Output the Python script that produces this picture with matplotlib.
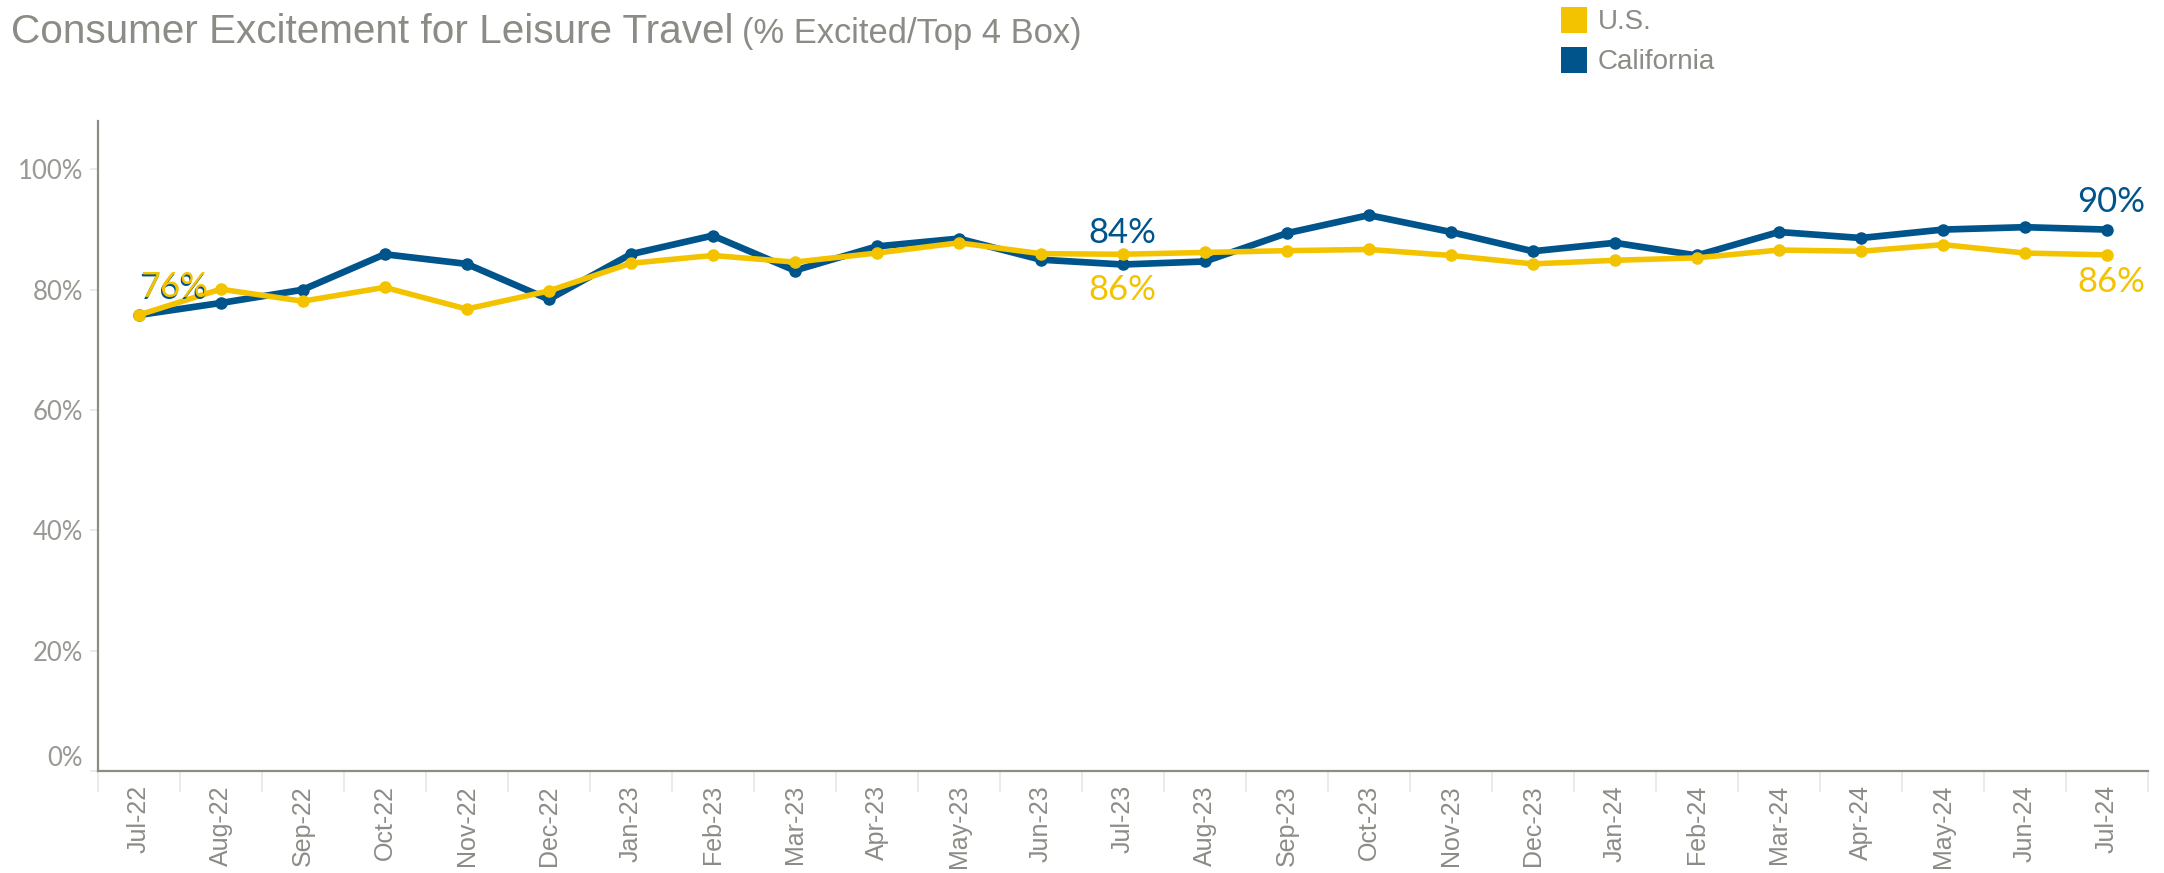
import matplotlib.pyplot as plt
from matplotlib.patches import Rectangle

# ---- data ----
months = ['Jul-22', 'Aug-22', 'Sep-22', 'Oct-22', 'Nov-22', 'Dec-22',
          'Jan-23', 'Feb-23', 'Mar-23', 'Apr-23', 'May-23', 'Jun-23',
          'Jul-23', 'Aug-23', 'Sep-23', 'Oct-23', 'Nov-23', 'Dec-23',
          'Jan-24', 'Feb-24', 'Mar-24', 'Apr-24', 'May-24', 'Jun-24', 'Jul-24']
us = [75.8, 80.1, 78.1, 80.4, 76.8, 79.8, 84.4, 85.7, 84.6, 86.1, 87.8, 86.0,
      85.9, 86.2, 86.5, 86.7, 85.7, 84.3, 84.9, 85.3, 86.6, 86.4, 87.5, 86.1, 85.8]
california = [75.8, 77.8, 80.0, 85.9, 84.3, 78.4, 85.9, 89.0, 83.2, 87.2, 88.5, 85.0,
              84.2, 84.7, 89.4, 92.4, 89.6, 86.4, 87.8, 85.7, 89.6, 88.6, 90.0, 90.4, 90.0]
yticks = [0, 20, 40, 60, 80, 100]
series_names = ['U.S.', 'California']

blue = '#00548C'
yellow = '#F4C300'
grey = '#8C8B86'
light = '#E8E8E8'

num_font = ['Lato', 'DejaVu Sans']
txt_font = ['Liberation Sans', 'DejaVu Sans']

W, H = 2164, 873
fig = plt.figure(figsize=(W / 100, H / 100), dpi=100, facecolor='white')
ax = fig.add_axes([0.0451, 0.1166, 0.9475, 0.7445])

x = list(range(len(months)))
ax.plot(x, california, color=blue, lw=4.8, marker='o', ms=8, zorder=3,
        solid_capstyle='round')
ax.plot(x, us, color=yellow, lw=4.0, marker='o', ms=8, zorder=4,
        solid_capstyle='round')

ax.set_xlim(-0.5, len(months) - 0.5)
ax.set_ylim(0, 108)

# axes styling
for s in ['top', 'right']:
    ax.spines[s].set_visible(False)
for s in ['left', 'bottom']:
    ax.spines[s].set_color(grey)
    ax.spines[s].set_linewidth(1.6)

ax.set_yticks(yticks)
ax.set_yticklabels([f'{v}%' for v in yticks], fontsize=18.5, color='#999893',
                   family=num_font)
ax.tick_params(axis='y', length=6, width=1.2, color=light, pad=4.5)
ax.get_yticklabels()[0].set_va('bottom')

ax.set_xticks(x)
ax.set_xticklabels(months, rotation=90, fontsize=18, color=grey, family=txt_font)
ax.tick_params(axis='x', length=0, pad=10)
ax.set_xticks([i - 0.5 for i in range(len(months) + 1)], minor=True)
ax.tick_params(axis='x', which='minor', length=15, width=1.2, color=light)

# data labels
def lab(i, vals, color, dx, dy, ha='center'):
    ax.annotate(f'{vals[i]:.0f}%', (i, vals[i]), xytext=(dx, dy),
                textcoords='offset points', ha=ha, va='center',
                fontsize=25, color=color, family=num_font, zorder=5)

lab(0, california, blue, 0.3, 19, ha='left')
lab(0, us, yellow, 1.3, 20, ha='left')
lab(12, california, blue, 0, 23)
lab(12, us, yellow, 0, -26)
lab(24, california, blue, 3, 20)
lab(24, us, yellow, 3, -19.5)

# title (fit main part to the reference width)
t1 = fig.text(11 / W, 1 - 43 / H, 'Consumer Excitement for Leisure Travel',
              fontsize=30, color=grey, va='baseline', family=txt_font)
fig.canvas.draw()
bb = t1.get_window_extent()
t1.set_fontsize(30 * 723 / bb.width)
fig.canvas.draw()
bb = t1.get_window_extent()
t2 = fig.text((bb.x1 + 8) / W, 1 - 43 / H, '(% Excited/Top 4 Box)',
              fontsize=21, color=grey, va='baseline', family=txt_font)
fig.canvas.draw()
bb2 = t2.get_window_extent()
t2.set_fontsize(21 * 340 / bb2.width)

# legend (squares + labels)
for k, (name, col) in enumerate(zip(series_names, [yellow, blue])):
    top = 7 + 40 * k
    fig.patches.append(Rectangle((1561 / W, 1 - (top + 26) / H), 26 / W, 26 / H,
                                 transform=fig.transFigure, facecolor=col,
                                 edgecolor='none'))
    fig.text(1598 / W, 1 - (top + 15) / H, name, fontsize=20, color=grey,
             va='center', ha='left', family=txt_font)

fig.savefig('out.png', dpi=100, facecolor='white')
